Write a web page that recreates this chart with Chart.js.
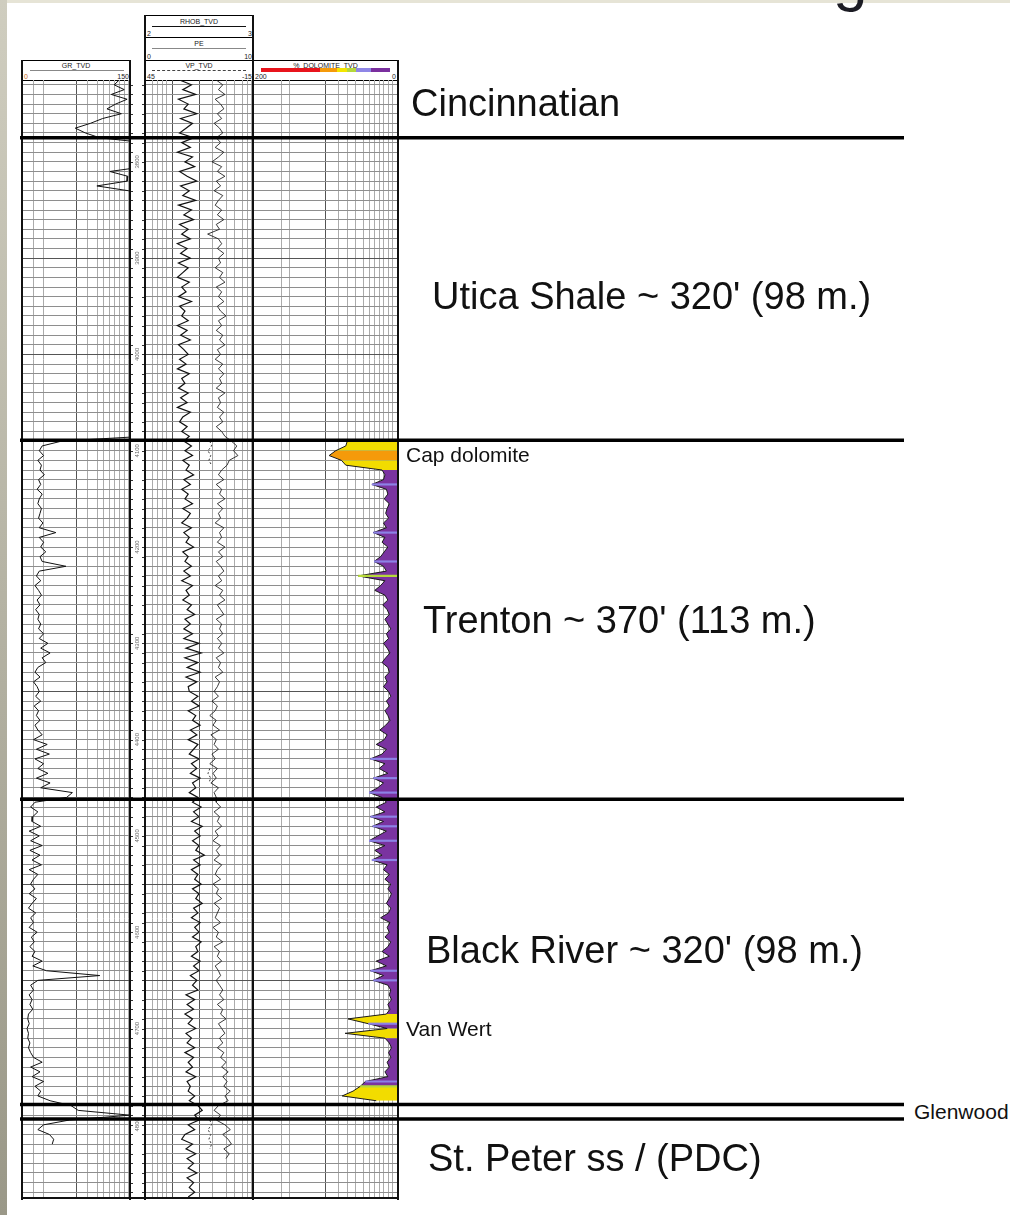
<!DOCTYPE html>
<html>
<head>
<meta charset="utf-8">
<script src="https://cdn.jsdelivr.net/npm/chart.js@4.4.0/dist/chart.umd.min.js"></script>
<style>
  html, body { margin: 0; padding: 0; background: #fff; }
  body { width: 1010px; height: 1215px; position: relative; overflow: hidden; font-family: "Liberation Sans", Arial, sans-serif; }
  canvas { position: absolute; }
  .strip-left { position: absolute; left: 0; top: 0; width: 7px; height: 1215px; background: linear-gradient(#cfcdbf, #9a9888); }
  .strip-top { position: absolute; left: 7px; top: 0; width: 1003px; height: 3px; background: #e6e4d6; }
  .title-cut { position: absolute; left: 833px; top: -53px; font-size: 62px; line-height: 62px; color: #1c1c24; }
  .box { position: absolute; border: 1px solid #000; box-sizing: border-box; background: #fff; }
  .hd { position: absolute; font-size: 7px; line-height: 7px; color: #222; white-space: nowrap; }
  .rule { position: absolute; height: 1px; }
  .vl { position: absolute; width: 2px; background: #111; }
  .hl { position: absolute; height: 2px; background: #111; }
  .zone { position: absolute; font-size: 38px; line-height: 38px; color: #111; white-space: nowrap; }
  .note { position: absolute; font-size: 21px; line-height: 21px; color: #111; white-space: nowrap; }
</style>
</head>
<body>
<div class="strip-left"></div>
<div class="strip-top"></div>
<div class="title-cut">g</div>

<!-- track headers -->
<div class="box" style="left:22px;top:60px;width:109px;height:21px"></div>
<div class="hd" style="left:22px;top:62px;width:108px;text-align:center">GR_TVD</div>
<div class="rule" style="left:30px;top:70px;width:94px;background:#888"></div>
<div class="hd" style="left:24px;top:73px;color:#c86a1a">0</div>
<div class="hd" style="left:22px;top:73px;width:107px;text-align:right">150</div>

<div class="box" style="left:145px;top:15px;width:109px;height:23px"></div>
<div class="hd" style="left:145px;top:18px;width:108px;text-align:center">RHOB_TVD</div>
<div class="rule" style="left:152px;top:26px;width:94px;background:#111"></div>
<div class="hd" style="left:147px;top:30px">2</div>
<div class="hd" style="left:145px;top:30px;width:107px;text-align:right">3</div>

<div class="box" style="left:145px;top:37px;width:109px;height:24px"></div>
<div class="hd" style="left:145px;top:40px;width:108px;text-align:center">PE</div>
<div class="rule" style="left:152px;top:48px;width:94px;background:#888"></div>
<div class="hd" style="left:147px;top:53px">0</div>
<div class="hd" style="left:145px;top:53px;width:107px;text-align:right">10</div>

<div class="box" style="left:145px;top:60px;width:109px;height:21px"></div>
<div class="hd" style="left:145px;top:62px;width:108px;text-align:center">VP_TVD</div>
<div class="rule" style="left:152px;top:70px;width:94px;height:0;border-top:1px dashed #444"></div>
<div class="hd" style="left:147px;top:73px">45</div>
<div class="hd" style="left:145px;top:73px;width:107px;text-align:right">-15</div>

<div class="box" style="left:253px;top:60px;width:146px;height:21px"></div>
<div class="hd" style="left:253px;top:62px;width:145px;text-align:center">%_DOLOMITE_TVD</div>
<div class="rule" style="left:261px;top:68px;width:129px;height:4px;background:linear-gradient(to right,#e8141c 0 46%,#f59a0a 46% 59%,#f3e600 59% 67%,#b5d83a 67% 74%,#8f86e6 74% 85%,#7a2f9e 85% 100%)"></div>
<div class="hd" style="left:255px;top:73px">200</div>
<div class="hd" style="left:253px;top:73px;width:143px;text-align:right">0</div>

<!-- track charts -->
<canvas id="grChart" width="108" height="1118" style="left:22px;top:80px"></canvas>
<canvas id="depthChart" width="15" height="1118" style="left:130px;top:80px"></canvas>
<canvas id="midChart" width="108" height="1118" style="left:145px;top:80px"></canvas>
<canvas id="doloChart" width="145" height="1118" style="left:253px;top:80px"></canvas>

<!-- track frames -->
<div class="vl" style="left:21px;top:60px;height:1140px"></div>
<div class="vl" style="left:129px;top:60px;height:1140px"></div>
<div class="vl" style="left:144px;top:15px;height:1185px"></div>
<div class="vl" style="left:252px;top:15px;height:1185px"></div>
<div class="vl" style="left:397px;top:60px;height:1140px"></div>
<div class="hl" style="left:21px;top:1197px;width:378px"></div>

<!-- formation tops overlay -->
<canvas id="topsChart" width="884" height="1118" style="left:20px;top:80px"></canvas>

<div class="zone" style="left:411px;top:84px">Cincinnatian</div>
<div class="zone" style="left:432px;top:277px">Utica Shale ~ 320' (98 m.)</div>
<div class="note" style="left:406px;top:444px">Cap dolomite</div>
<div class="zone" style="left:423px;top:601px">Trenton ~ 370' (113 m.)</div>
<div class="zone" style="left:426px;top:931px">Black River ~ 320' (98 m.)</div>
<div class="note" style="left:406px;top:1018px">Van Wert</div>
<div class="note" style="left:914px;top:1101px">Glenwood</div>
<div class="zone" style="left:428px;top:1139px">St. Peter ss / (PDC)</div>

<script>
Chart.defaults.font.family = "Liberation Sans";
Chart.defaults.animation = false;

// depth axis (ft, TVD)
const DEPTH_MIN = 3715;
const DEPTH_MAX = 4876;
const STEP = 5;
const formationTops = [3775, 4089, 4462, 4779, 4794];
const depthLabels = [3800, 3900, 4000, 4100, 4200, 4300, 4400, 4500, 4600, 4700, 4800];
const darkDepthLines = [3900, 4000, 4350, 4550, 4650];

// GR (API), sampled every 5 ft from 3715; 170 = off scale to the right
const grStart = 3715;
const grValues = [
  135, 128, 142, 124, 146, 130, 118, 138, 112, 95, 74, 88, 108,
  170, 170, 170, 170, 170,
  170, 122, 147, 146, 104, 148, 170,
  170, 170, 170, 170, 170, 170, 170, 170, 170, 170,
  170, 170, 170, 170, 170, 170, 170, 170, 170, 170,
  170, 170, 170, 170, 170, 170, 170, 170, 170, 170,
  170, 170, 170, 170, 170, 170, 170, 170, 170, 170,
  170, 170, 170, 170, 170, 170, 170, 170, 170, 170,
  55, 28,
  24, 30, 22, 27, 25, 31, 23,
  26, 21, 28, 24, 22, 27, 25, 23, 29, 24,
  47,
  24, 30, 26, 33, 25, 28,
  61,
  24, 20, 26, 18, 23, 27, 21, 25, 19, 24, 22, 26, 23,
  30, 24, 36, 26, 39, 28, 33,
  22, 18, 25, 16, 21, 24, 19, 26, 17, 23, 20, 25, 18, 22,
  28, 16, 35, 20, 38, 18, 30, 22, 36, 20,
  39, 26, 70, 62,
  18, 12, 22, 15,
  14, 26, 10, 24, 12, 28, 11, 25, 14, 27, 10, 22, 16,
  12, 18, 10, 20, 14, 9, 19, 12, 16, 10, 21, 13, 17, 11, 18, 14,
  28, 15, 34, 108, 22,
  12, 16, 10, 14, 11, 15, 9,
  8, 10, 7, 9, 8, 11, 9, 12,
  16, 28, 12, 25, 14, 30, 18, 26,
  22, 39, 68, 78, 150, 66, 30, 22, 38, 44, 42
];

// PE (b/e), every 5 ft from 3715
const peStart = 3715;
const peValues = [
  3.2, 4.3, 3.5, 4.7, 3.1, 4.0, 3.6, 4.8, 3.3, 4.4, 3.8, 3.2, 4.5,
  3.4, 4.2, 3.0, 4.4, 3.7, 4.6, 3.2, 3.9, 4.8, 3.3, 4.1, 3.5, 4.7, 3.1, 4.3, 3.6, 4.5, 3.2, 4.0, 3.4, 4.2,
  3.0, 3.9, 3.3, 4.2, 3.1, 4.0, 3.5, 3.0, 4.1, 3.4, 3.8, 3.1, 4.3, 3.2, 3.7, 3.4, 4.0, 3.0, 3.9, 3.3,
  4.2, 3.1, 3.6, 4.0, 3.2, 3.8, 3.0, 4.1, 3.4, 3.7, 3.1, 4.0, 3.3, 3.9, 3.0, 4.2, 3.5, 3.2, 3.9, 3.4, 4.1,
  3.6, 4.3, 3.7, 4.4, 3.5, 4.1, 3.8, 4.5, 3.6, 4.2, 3.4, 4.0, 3.7, 4.4, 3.5, 4.2, 3.9, 3.4, 4.3, 3.6,
  4.1, 3.8, 4.5, 3.5, 4.0, 3.7, 4.3, 3.6, 4.2, 3.4, 4.4, 3.8, 4.1, 3.5, 4.3, 3.9, 4.6, 3.7, 4.2, 3.6, 4.4,
  3.6, 5.0, 3.8, 5.2, 3.7, 4.9, 3.9, 5.1, 3.8, 4.8, 4.0,
  4.1, 4.9, 4.3, 5.0, 4.0, 4.7, 4.4, 5.1, 4.2, 4.8, 4.0, 4.9, 4.5, 4.1, 5.0, 4.3, 4.8, 4.2, 5.1, 4.4, 4.7, 4.1, 4.9,
  4.4, 5.2, 4.5, 5.0, 4.3, 5.3, 4.6, 5.1, 4.4, 5.0, 4.7, 5.5, 4.5, 5.1, 4.3, 4.9, 4.6, 5.2, 4.4, 5.0,
  4.7, 5.3, 4.5, 4.9, 4.3, 5.1, 4.6, 5.0, 4.4, 5.2, 4.7, 4.9, 4.3, 5.1, 4.5, 5.0, 4.2, 4.8, 4.4, 4.9,
  3.8, 4.6, 3.9, 4.5, 3.7, 4.4, 4.0, 4.7, 3.8, 4.3, 3.9, 4.6, 3.7, 4.5, 4.0, 4.4, 3.8, 4.7, 3.9, 4.2, 4.0, 4.6, 4.1,
  4.9, 5.3, 4.6, 5.0,
  4.0, 4.6, 3.7, 3.4, 4.4, 3.8, 4.7, 3.9, 4.5, 4.0, 4.8, 3.9, 4.5, 4.1, 4.6, 4.0
];

// RHOB (g/cc), every 5 ft from 3715
const rhobStart = 3715;
const rhobValues = [
  2.66, 2.72, 2.68, 2.74, 2.65, 2.70, 2.73, 2.67, 2.71, 2.64, 2.69, 2.72, 2.66,
  2.70, 2.65, 2.73, 2.68, 2.62, 2.71, 2.67, 2.74, 2.66, 2.70, 2.64, 2.72, 2.68, 2.65, 2.71, 2.67, 2.73, 2.66, 2.69, 2.58, 2.68,
  2.71, 2.67, 2.73, 2.68, 2.70, 2.65, 2.72, 2.69, 2.74, 2.66, 2.71, 2.68, 2.73, 2.67, 2.70, 2.75, 2.68, 2.71, 2.66, 2.72,
  2.69, 2.74, 2.67, 2.70, 2.65, 2.72, 2.68, 2.73, 2.69, 2.71, 2.66, 2.74, 2.68, 2.70, 2.67, 2.73, 2.69, 2.72, 2.66, 2.71, 2.74,
  2.80, 2.85, 2.82, 2.86, 2.78, 2.76, 2.71, 2.68, 2.73, 2.66, 2.71, 2.69, 2.74, 2.67, 2.72, 2.68, 2.70, 2.65, 2.73, 2.69,
  2.71, 2.67, 2.74, 2.68, 2.72, 2.66, 2.70, 2.73, 2.68, 2.71, 2.65, 2.72, 2.69, 2.74, 2.67, 2.70, 2.73, 2.66, 2.71, 2.69, 2.72,
  2.67, 2.71, 2.68, 2.73, 2.66, 2.70, 2.68, 2.72, 2.65, 2.69, 2.67,
  2.64, 2.68, 2.62, 2.67, 2.65, 2.60, 2.66, 2.63, 2.69, 2.61, 2.66, 2.64, 2.68, 2.62, 2.65, 2.60, 2.67, 2.63, 2.66, 2.61, 2.68, 2.64, 2.66,
  2.66, 2.70, 2.64, 2.69, 2.67, 2.71, 2.65, 2.68, 2.63, 2.70, 2.66, 2.69, 2.64, 2.71, 2.67, 2.65, 2.70, 2.63, 2.68, 2.66,
  2.71, 2.64, 2.69, 2.67, 2.65, 2.70, 2.63, 2.68, 2.66, 2.72, 2.64, 2.69, 2.67, 2.71, 2.65, 2.68, 2.70, 2.66, 2.69, 2.72,
  2.69, 2.73, 2.67, 2.72, 2.70, 2.75, 2.68, 2.71, 2.74, 2.69, 2.72, 2.67, 2.73, 2.70, 2.75, 2.71, 2.77, 2.72, 2.76, 2.73, 2.79, 2.74, 2.77,
  2.68, 2.64, 2.70, 2.66,
  2.74, 2.79, 2.72, 2.77, 2.80, 2.73, 2.78, 2.75
];

// VP (dashed), only short recorded intervals
const vpDepths = [4090, 4095, 4100, 4105, 4110, 4115, 4120, 4430, 4435, 4440, 4445, 4450, 4795, 4800, 4805, 4810, 4815, 4820, 4825];
const vpValues = [9, 8, 10, 8.5, 9.5, 8, null, 9, 10, 8.5, 9.5, null, 9, 8, 10, 8.5, 9.5, 8, 9];

// % dolomite, every 5 ft from 4090
const doloStart = 4090;
const doloValues = [
  70, 72, 86, 95, 78, 72, 22, 18, 20, 36, 16, 14, 19, 12, 15, 17, 13, 20, 16, 34,
  18, 22, 14, 19, 24, 33, 20, 16, 55, 18, 24, 32, 18, 14, 21,
  15, 12, 18, 14, 10, 16, 13, 20, 15, 11, 17, 22, 14, 12, 18, 15, 20, 13, 10, 16,
  12, 18, 14, 11, 17, 25, 15, 19, 30, 16, 22, 38, 18, 26, 14, 34, 20, 28, 40, 22,
  16, 30, 18, 38, 20, 35, 16, 28, 40, 18, 32, 22, 36, 15, 20, 12, 18, 10, 14, 9,
  12, 16, 10, 13, 24, 11, 15, 12, 18, 10, 14, 22, 12, 30, 16, 38, 20, 34, 14, 10,
  12, 9, 14, 11, 16, 69, 41, 15, 73, 18, 12, 9, 13, 10, 15, 12, 18, 14, 45, 52,
  62, 77, 30
];

// background grid lines (log-style chart paper), one decade per half track
const grGrid = [1.6, 2.5, 10, 16, 25, 32, 42, 52, 65, 78, 92];
const midGrid = [1.35, 1.7, 2.1, 2.55, 3.2, 10, 18, 32, 46, 65, 80, 95];
const doloGrid = [2.5, 3.2, 10, 15, 20, 26, 33, 40, 47, 56, 64, 73, 85];
const midDark = [3.2, 10];
const depthGrid = [];
for (let d = 3720; d <= 4870; d += 10) depthGrid.push(d);

const toPoints = (start, values) => values.map((v, i) => ({ x: v, y: start + i * STEP }));

const PURPLE = "#7a33a0";
const doloColor = (v) => {
  if (v >= 110) return "#e8141c";
  if (v >= 80) return "#f59a0a";
  if (v >= 60) return "#f2dc00";
  if (v >= 50) return "#b5d83a";
  if (v >= 33) return "#8c82e6";
  return PURPLE;
};
// wedge fill: high dolomite zones take their colour, thin streaks mark the rest
const segmentFill = (a, b) => (Math.max(a, b) >= 60 ? doloColor(Math.max(60, (a + b) / 2)) : PURPLE);
const streakColor = (v) => (v >= 33 && v < 60 ? doloColor(v) : "rgba(0,0,0,0)");

const depthScale = (extra) => Object.assign({
  type: "linear",
  min: DEPTH_MIN,
  max: DEPTH_MAX,
  reverse: true,
  offset: false,
  ticks: { display: false },
  border: { display: false },
  grid: {
    offset: false,
    drawTicks: false,
    color: (ctx) => (ctx.tick && darkDepthLines.includes(ctx.tick.value) ? "#555" : "#8e8e8e"),
  },
  afterBuildTicks: (axis) => {
    axis.ticks = depthGrid.map((v) => ({ value: v }));
  },
}, extra || {});

const paperScale = (values, dark) => ({
  type: "logarithmic",
  axis: "x",
  position: "top",
  min: 1,
  max: 100,
  ticks: { display: false },
  border: { display: false },
  grid: {
    drawTicks: false,
    color: (ctx) => (ctx.tick && dark.includes(ctx.tick.value) ? "#555" : "#ababab"),
  },
  afterBuildTicks: (axis) => {
    axis.ticks = values.map((v) => ({ value: v }));
  },
});

const hiddenX = (min, max, reverse) => ({
  type: "linear",
  axis: "x",
  display: false,
  min: min,
  max: max,
  reverse: !!reverse,
});

const baseOptions = {
  responsive: false,
  animation: false,
  events: [],
  indexAxis: "y",
  layout: { padding: 0 },
  plugins: { legend: { display: false }, tooltip: { enabled: false } },
};

// GR track
new Chart(document.getElementById("grChart"), {
  type: "line",
  data: {
    datasets: [
      {
        data: toPoints(grStart, grValues),
        xAxisID: "gr",
        yAxisID: "y",
        borderColor: "#111",
        borderWidth: 1,
        pointRadius: 0,
        tension: 0,
      },
    ],
  },
  options: {
    ...baseOptions,
    scales: {
      paper: paperScale(grGrid, [10]),
      gr: hiddenX(0, 150),
      y: depthScale(),
    },
  },
});

// depth track: ticks and rotated depth labels
const depthTrack = {
  id: "depthTrack",
  afterDraw(chart) {
    const { ctx, chartArea: a } = chart;
    const y = chart.scales.y;
    ctx.save();
    ctx.strokeStyle = "#333";
    ctx.lineWidth = 1;
    depthGrid.forEach((d) => {
      const py = Math.round(y.getPixelForValue(d)) + 0.5;
      ctx.beginPath();
      ctx.moveTo(a.left, py);
      ctx.lineTo(a.left + 3, py);
      ctx.moveTo(a.right - 3, py);
      ctx.lineTo(a.right, py);
      ctx.stroke();
    });
    ctx.fillStyle = "#666";
    ctx.font = '6px "Liberation Sans"';
    ctx.textAlign = "center";
    ctx.textBaseline = "middle";
    depthLabels.forEach((d) => {
      ctx.save();
      ctx.translate((a.left + a.right) / 2, y.getPixelForValue(d));
      ctx.rotate(-Math.PI / 2);
      ctx.fillText(String(d), 0, 0);
      ctx.restore();
    });
    ctx.restore();
  },
};

new Chart(document.getElementById("depthChart"), {
  type: "line",
  data: { datasets: [] },
  options: {
    ...baseOptions,
    scales: {
      x: { type: "linear", display: false, min: 0, max: 1 },
      y: depthScale({ display: false }),
    },
  },
  plugins: [depthTrack],
});

// RHOB / PE / VP track
new Chart(document.getElementById("midChart"), {
  type: "line",
  data: {
    datasets: [
      {
        label: "PE",
        data: toPoints(peStart, peValues),
        xAxisID: "pe",
        yAxisID: "y",
        borderColor: "#111",
        borderWidth: 1.2,
        pointRadius: 0,
      },
      {
        label: "RHOB_TVD",
        data: toPoints(rhobStart, rhobValues),
        xAxisID: "rhob",
        yAxisID: "y",
        borderColor: "#222",
        borderWidth: 0.9,
        pointRadius: 0,
      },
      {
        label: "VP_TVD",
        data: vpValues.map((v, i) => ({ x: v, y: vpDepths[i] })),
        xAxisID: "vp",
        yAxisID: "y",
        borderColor: "#333",
        borderWidth: 1,
        borderDash: [2, 2],
        pointRadius: 0,
        spanGaps: false,
      },
    ],
  },
  options: {
    ...baseOptions,
    scales: {
      paper: paperScale(midGrid, midDark),
      pe: hiddenX(0, 10),
      rhob: hiddenX(2, 3),
      vp: hiddenX(-15, 45, true),
      y: depthScale(),
    },
  },
});

// % dolomite track: curve filled toward 0, coloured by value
const doloPoints = toPoints(doloStart, doloValues);
new Chart(document.getElementById("doloChart"), {
  type: "bar",
  data: {
    datasets: [
      {
        type: "bar",
        data: doloPoints,
        xAxisID: "dolo",
        yAxisID: "y",
        backgroundColor: doloValues.map(streakColor),
        borderWidth: 0,
        barPercentage: 0.45,
        categoryPercentage: 1,
      },
      {
        type: "line",
        data: doloPoints,
        xAxisID: "dolo",
        yAxisID: "y",
        borderColor: "#1a1a1a",
        borderWidth: 1,
        pointRadius: 0,
        fill: { value: 0 },
        backgroundColor: PURPLE,
        segment: {
          backgroundColor: (ctx) => segmentFill(ctx.p0.parsed.x, ctx.p1.parsed.x),
        },
      },
    ],
  },
  options: {
    ...baseOptions,
    plugins: { ...baseOptions.plugins, filler: { propagate: false } },
    scales: {
      paper: paperScale(doloGrid, [10]),
      dolo: hiddenX(0, 200, true),
      y: depthScale(),
    },
  },
});

// formation boundaries across all tracks
new Chart(document.getElementById("topsChart"), {
  type: "line",
  data: {
    datasets: formationTops.map((d) => ({
      data: [{ x: 0, y: d }, { x: 1, y: d }],
      borderColor: "#000",
      borderWidth: 3.5,
      pointRadius: 0,
    })),
  },
  options: {
    responsive: false,
    animation: false,
    events: [],
    layout: { padding: 0 },
    plugins: { legend: { display: false }, tooltip: { enabled: false } },
    scales: {
      x: { type: "linear", display: false, min: 0, max: 1 },
      y: { type: "linear", display: false, min: DEPTH_MIN, max: DEPTH_MAX, reverse: true },
    },
  },
});
</script>
</body>
</html>
